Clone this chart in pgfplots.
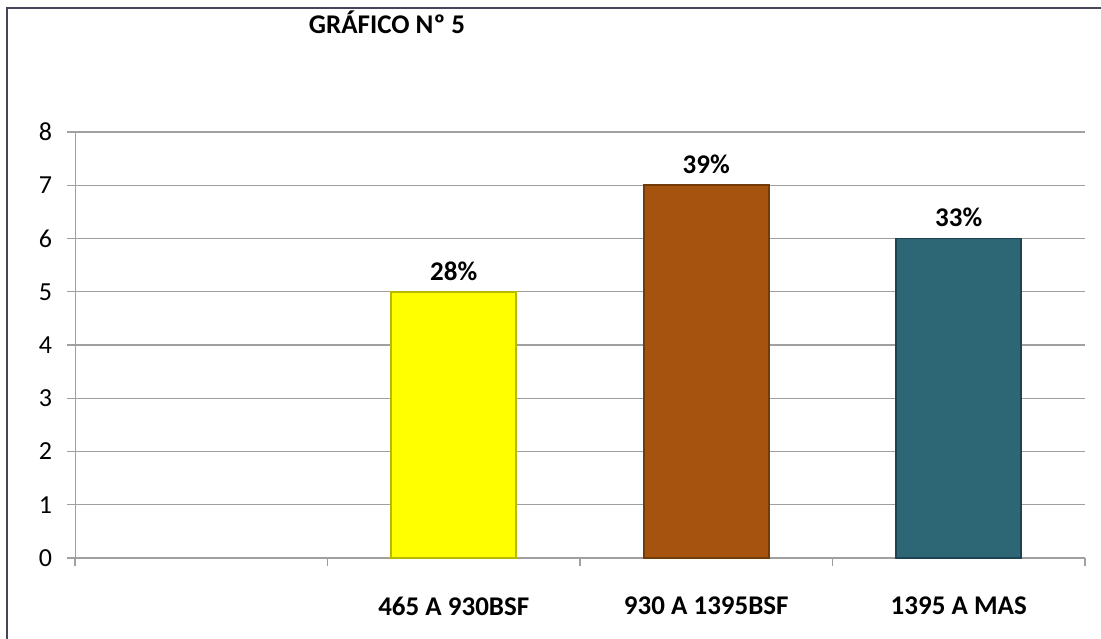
\documentclass[border=0pt]{standalone}
\usepackage{fontspec}
\setmainfont{Carlito}
\usepackage{pgfplots}
\pgfplotsset{compat=1.18}

\definecolor{gridc}{RGB}{160,160,160}
\definecolor{framec}{RGB}{70,70,90}
\definecolor{barY}{RGB}{255,255,0}
\definecolor{barYedge}{RGB}{185,185,0}
\definecolor{barB}{RGB}{166,83,15}
\definecolor{barBedge}{RGB}{115,58,10}
\definecolor{barT}{RGB}{45,102,117}
\definecolor{barTedge}{RGB}{28,68,80}

\begin{document}
\begin{tikzpicture}
\path[use as bounding box] (0,0) rectangle (550.5pt,319pt);
\draw[framec, line width=1.4pt] (3.5pt,-5pt) -- (3.5pt,315pt) -- (556pt,315pt);
\node[font=\bfseries\fontsize{13.5}{15}\selectfont] at (193.5pt,308pt) {GRÁFICO Nº 5};

\begin{axis}[
    at={(37.5pt,40pt)}, anchor=south west,
    scale only axis,
    width=505pt, height=213pt,
    xmin=-0.5, xmax=3.5, ymin=0, ymax=8,
    ytick={0,...,8},
    xtick={-0.5,0.5,1.5,2.5,3.5},
    x tick label as interval,
    xticklabels={,465 A 930BSF,930 A 1395BSF,1395 A MAS},
    axis lines*=left,
    axis line style={gridc, -},
    tick align=outside,
    major tick length=4pt,
    tick style={gridc, line width=0.6pt},
    ymajorgrids=true,
    grid style={gridc, line width=0.6pt},
    /pgf/number format/assume math mode=true,
    yticklabel style={font=\fontsize{13}{15}\selectfont, xshift=-4pt},
    xticklabel style={font=\bfseries\fontsize{13.5}{15}\selectfont, yshift=-12pt},
    ybar, bar width=62.5pt, bar shift=0pt,
    point meta=explicit symbolic,
    nodes near coords,
    every node near coord/.append style={font=\bfseries\fontsize{13.5}{15}\selectfont, black, yshift=2pt},
]
\addplot[fill=barY, draw=barYedge, line width=0.8pt] coordinates {(1,5) [28\%]};
\addplot[fill=barB, draw=barBedge, line width=0.8pt] coordinates {(2,7) [39\%]};
\addplot[fill=barT, draw=barTedge, line width=0.8pt] coordinates {(3,6) [33\%]};
\end{axis}
\end{tikzpicture}
\end{document}
